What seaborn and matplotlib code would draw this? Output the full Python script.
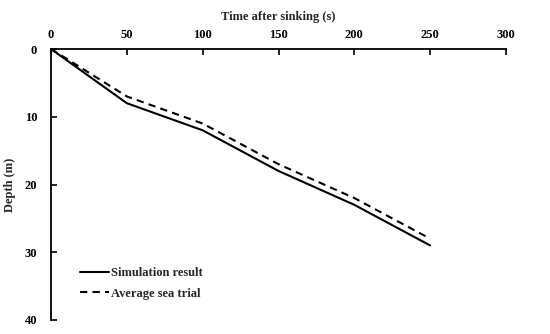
import matplotlib
matplotlib.use("Agg")
import matplotlib.pyplot as plt
import seaborn as sns
import pandas as pd

time_s = [0, 50, 100, 150, 200, 250]
simulation_depth = [0, 8, 12, 18, 23, 29]
sea_trial_depth = [0, 7, 11, 17, 22, 28]

sns.set_theme(style="white")
plt.rcParams['font.family'] = ['Liberation Serif', 'DejaVu Serif']
plt.rcParams['font.weight'] = 'bold'

df = pd.DataFrame({
    "t": time_s * 2,
    "d": simulation_depth + sea_trial_depth,
    "s": ["Simulation result"] * len(time_s) + ["Average sea trial"] * len(time_s),
})

fig = plt.figure(figsize=(5.5, 3.34), dpi=100)
ax = fig.add_axes([51/550, 1 - 320/334, (506 - 51)/550, (320 - 49)/334])
sns.lineplot(data=df, x="t", y="d", style="s", color="black", linewidth=1.5,
             dashes={"Simulation result": "", "Average sea trial": (3.5, 2.5)},
             ax=ax, legend=True)
ax.set_xlim(0, 300)
ax.set_ylim(40, 0)
ax.set_xticks([0, 50, 100, 150, 200, 250, 300])
ax.set_yticks([0, 10, 20, 30, 40])
ax.xaxis.tick_top()
ax.xaxis.set_label_position("top")
ax.set_xlabel("Time after sinking (s)", fontsize=9, fontweight="bold", labelpad=6)
ax.set_ylabel("Depth (m)", fontsize=9, fontweight="bold", labelpad=6)
for s in ["right", "bottom"]:
    ax.spines[s].set_visible(False)
for s in ["left", "top"]:
    ax.spines[s].set_color("black")
    ax.spines[s].set_linewidth(1.3)
ax.tick_params(axis="both", direction="in", length=4, width=1.2, colors="black",
               labelsize=9, pad=6)
ax.tick_params(axis="y", pad=10)
ax.tick_params(axis="x", top=True, bottom=False)
ax.tick_params(axis="y", left=True)
for lab in ax.get_xticklabels() + ax.get_yticklabels():
    lab.set_fontweight("bold")
leg = ax.legend(loc="lower left", bbox_to_anchor=(0.039, 0.034), frameon=False,
                fontsize=9, handlelength=2.3, labelspacing=0.65, handletextpad=0.2)
for t in leg.get_texts():
    t.set_fontweight("bold")
fig.savefig("out.png", dpi=100)
